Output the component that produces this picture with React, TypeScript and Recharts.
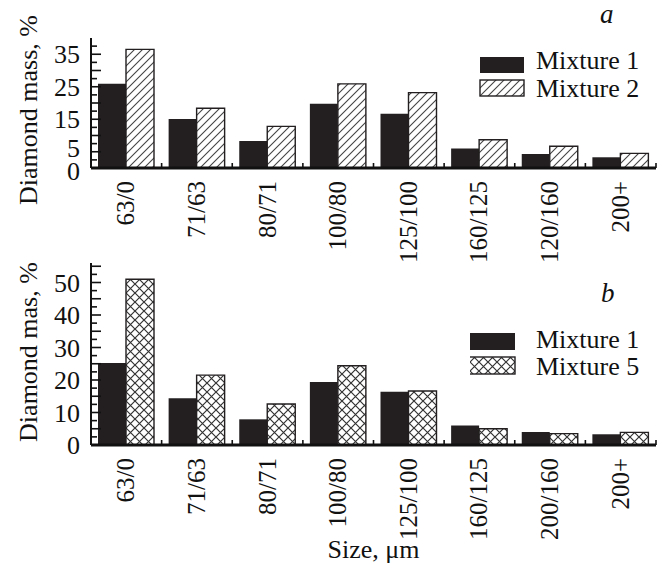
import React from 'react';
import { BarChart, Bar, XAxis, YAxis, Legend } from 'recharts';

const categoriesA = ['63/0', '71/63', '80/71', '100/80', '125/100', '160/125', '120/160', '200+'];
const categoriesB = ['63/0', '71/63', '80/71', '100/80', '125/100', '160/125', '200/160', '200+'];
const mixture1A = [25.9, 15.1, 8.3, 19.8, 16.7, 6.0, 4.3, 3.3];
const mixture2A = [36.5, 18.4, 12.8, 25.9, 23.2, 8.7, 6.7, 4.5];
const mixture1B = [25.2, 14.4, 7.9, 19.4, 16.4, 6.0, 4.0, 3.3];
const mixture5B = [51.0, 21.5, 12.6, 24.4, 16.6, 5.0, 3.5, 3.9];
const yTicksA = [0, 2.5, 5, 7.5, 10, 12.5, 15, 17.5, 20, 22.5, 25, 27.5, 30, 32.5, 35, 37.5];
const yLabelsA = [0, 5, 15, 25, 35];
const yTicksB = [0, 2.5, 5, 7.5, 10, 12.5, 15, 17.5, 20, 22.5, 25, 27.5, 30, 32.5, 35, 37.5, 40, 42.5, 45, 47.5, 50, 52.5, 55];
const yLabelsB = [0, 10, 20, 30, 40, 50];

const dataA = categoriesA.map((c, i) => ({ cat: c, m1: mixture1A[i], m2: mixture2A[i] }));
const dataB = categoriesB.map((c, i) => ({ cat: c, m1: mixture1B[i], m5: mixture5B[i] }));

const FONT = '"Liberation Serif", "Times New Roman", serif';
const DARK = '#231f20';
const AXIS_X = 91;
const BAND = (656 - 91) / 8;

const makeYTick = (labels: number[], nudge: Record<string, number>) => (props: any) => {
  const { y, payload } = props;
  const v = payload.value;
  const long = Math.abs(v / 5 - Math.round(v / 5)) < 1e-6;
  const dy = nudge[String(v)] || 0;
  return (
    <g>
      <line x1={AXIS_X} x2={AXIS_X + (long ? 10 : 6)} y1={y} y2={y} stroke="#111" strokeWidth={1.6} />
      {labels.includes(v) && (
        <text x={80} y={y + 9 + dy} textAnchor="end" fontFamily={FONT} fontSize={26} fill="#111">
          {v}
        </text>
      )}
    </g>
  );
};

const makeXTick = (axisY: number) => (props: any) => {
  const { x, payload } = props;
  const tx = x + 8;
  const ty = axisY + 13;
  return (
    <g>
      <line x1={x + BAND / 2} x2={x + BAND / 2} y1={axisY} y2={axisY - 5} stroke="#111" strokeWidth={1.6} />
      <text
        x={tx}
        y={ty}
        transform={`rotate(-90, ${tx}, ${ty})`}
        textAnchor="end"
        fontFamily={FONT}
        fontSize={25}
        fill="#111"
      >
        {payload.value}
      </text>
    </g>
  );
};

const makeYLabel = (text: string, cy: number) => () => (
  <text
    x={37}
    y={cy}
    transform={`rotate(-90, 37, ${cy})`}
    textAnchor="middle"
    fontFamily={FONT}
    fontSize={26}
    fill="#111"
  >
    {text}
  </text>
);

const makeLegend = (fills: string[], names: string[], swX: number, swW: number, swH: number, rowsY: number[], baseY: number[]) => () => (
  <svg width={185} height={60} style={{ display: 'block' }}>
    {names.map((n, i) => (
      <g key={n}>
        <rect
          x={swX}
          y={rowsY[i]}
          width={swW}
          height={swH}
          fill={fills[i]}
          stroke={i === 0 ? 'none' : DARK}
          strokeWidth={1.4}
        />
        <text x={66} y={baseY[i]} fontFamily={FONT} fontSize={26} fill="#111">
          {n}
        </text>
      </g>
    ))}
  </svg>
);

const Defs = () => (
  <svg width={0} height={0} style={{ position: 'absolute' }}>
    <defs>
      <pattern id="hatch" patternUnits="userSpaceOnUse" width={8} height={8}>
        <rect width={8} height={8} fill="#fff" />
        <path d="M-2,2 L2,-2 M0,8 L8,0 M6,10 L10,6" stroke="#444" strokeWidth={1.1} />
      </pattern>
      <pattern id="cross" patternUnits="userSpaceOnUse" width={9} height={9}>
        <rect width={9} height={9} fill="#fff" />
        <path d="M0,0 L9,9 M9,0 L0,9" stroke="#333" strokeWidth={1.2} />
      </pattern>
    </defs>
  </svg>
);

export default function App() {
  return (
    <div style={{ position: 'absolute', left: 0, top: 0, width: 662, height: 571, background: '#fff', overflow: 'hidden' }}>
      <Defs />
      <div style={{ position: 'absolute', left: 0, top: 0 }}>
        <BarChart
          width={662}
          height={262}
          data={dataA}
          margin={{ top: 38, right: 6, bottom: 0, left: 0 }}
          barGap={0}
          barCategoryGap={7}
        >
          <XAxis
            dataKey="cat"
            height={94}
            interval={0}
            tickLine={false}
            axisLine={{ stroke: '#111', strokeWidth: 3 }}
            tick={makeXTick(168)}
          />
          <YAxis
            width={91}
            domain={[0, 40]}
            ticks={yTicksA}
            interval={0}
            tickLine={false}
            axisLine={{ stroke: '#111', strokeWidth: 2 }}
            tick={makeYTick(yLabelsA, { '0': 3, '5': -4 })}
            label={{ content: makeYLabel('Diamond mass, %', 110) }}
          />
          <Legend
            layout="horizontal"
            verticalAlign="middle"
            align="center"
            wrapperStyle={{ position: 'absolute', left: 470, top: 50, width: 185, height: 60 }}
            content={makeLegend([DARK, 'url(#hatch)'], ['Mixture 1', 'Mixture 2'], 10, 44, 16, [7, 30], [19, 47])}
          />
          <Bar dataKey="m1" name="Mixture 1" fill={DARK} isAnimationActive={false} />
          <Bar dataKey="m2" name="Mixture 2" fill="url(#hatch)" stroke={DARK} strokeWidth={1.4} isAnimationActive={false} />
        </BarChart>
      </div>
      <div style={{ position: 'absolute', left: 0, top: 230 }}>
        <BarChart
          width={662}
          height={341}
          data={dataB}
          margin={{ top: 33, right: 6, bottom: 0, left: 0 }}
          barGap={0}
          barCategoryGap={7}
        >
          <XAxis
            dataKey="cat"
            height={126}
            interval={0}
            tickLine={false}
            axisLine={{ stroke: '#111', strokeWidth: 3 }}
            tick={makeXTick(215)}
          />
          <YAxis
            width={91}
            domain={[0, 56]}
            ticks={yTicksB}
            interval={0}
            tickLine={false}
            axisLine={{ stroke: '#111', strokeWidth: 2 }}
            tick={makeYTick(yLabelsB, {})}
            label={{ content: makeYLabel('Diamond mas, %', 122) }}
          />
          <Legend
            layout="horizontal"
            verticalAlign="middle"
            align="center"
            wrapperStyle={{ position: 'absolute', left: 470, top: 96, width: 185, height: 60 }}
            content={makeLegend([DARK, 'url(#cross)'], ['Mixture 1', 'Mixture 5'], -1, 46, 17, [7, 31], [22, 49])}
          />
          <Bar dataKey="m1" name="Mixture 1" fill={DARK} isAnimationActive={false} />
          <Bar dataKey="m5" name="Mixture 5" fill="url(#cross)" stroke={DARK} strokeWidth={1.4} isAnimationActive={false} />
        </BarChart>
      </div>
      <div style={{ position: 'absolute', left: 600, top: 1, lineHeight: 1, fontFamily: FONT, fontStyle: 'italic', fontSize: 27, color: '#111' }}>a</div>
      <div style={{ position: 'absolute', left: 601, top: 280, lineHeight: 1, fontFamily: FONT, fontStyle: 'italic', fontSize: 27, color: '#111' }}>b</div>
      <div style={{ position: 'absolute', left: 0, top: 535, width: 747, textAlign: 'center', fontFamily: FONT, fontSize: 26, color: '#111' }}>
        Size, μm
      </div>
    </div>
  );
}
